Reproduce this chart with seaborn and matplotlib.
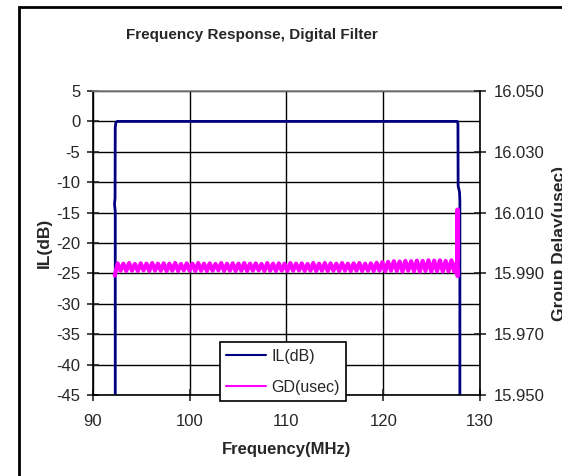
import numpy as np
import pandas as pd
import matplotlib
matplotlib.use("Agg")
import matplotlib.pyplot as plt
from matplotlib.patches import Rectangle
from matplotlib.lines import Line2D
import seaborn as sns

# insertion loss trace (MHz, dB)
il_freq = [92.30, 92.30, 92.22, 92.28, 92.30, 92.36, 92.50, 127.66, 127.72, 127.74, 127.88, 127.92, 127.92]
il_db = [-45.0, -14.8, -13.6, -12.6, -1.0, -0.2, 0.0, 0.0, -0.4, -10.6, -11.6, -13.0, -45.0]

# group delay ripple across the passband (usec), swept evenly from band_start to band_stop
band_start, band_stop = 92.25, 127.64
gd_band = [
    15.9893, 15.9933, 15.9909, 15.9932, 15.9908, 15.9934, 15.9909, 15.9931, 15.9908, 15.9933,
    15.9910, 15.9932, 15.9908, 15.9934, 15.9909, 15.9932, 15.9909, 15.9933, 15.9908, 15.9932,
    15.9909, 15.9934, 15.9908, 15.9931, 15.9910, 15.9933, 15.9909, 15.9932, 15.9908, 15.9934,
    15.9909, 15.9932, 15.9908, 15.9933, 15.9909, 15.9931, 15.9910, 15.9934, 15.9908, 15.9932,
    15.9909, 15.9933, 15.9908, 15.9932, 15.9909, 15.9934, 15.9908, 15.9932, 15.9909, 15.9933,
    15.9910, 15.9931, 15.9908, 15.9934, 15.9909, 15.9932, 15.9908, 15.9933, 15.9909, 15.9932,
    15.9908, 15.9934, 15.9909, 15.9932, 15.9910, 15.9933, 15.9908, 15.9931, 15.9909, 15.9934,
    15.9908, 15.9932, 15.9909, 15.9934, 15.9908, 15.9933, 15.9909, 15.9932, 15.9908, 15.9934,
    15.9909, 15.9932, 15.9908, 15.9933, 15.9909, 15.9934, 15.9908, 15.9932, 15.9909, 15.9933,
    15.9908, 15.9935, 15.9909, 15.9937, 15.9907, 15.9938, 15.9909, 15.9940, 15.9908, 15.9939,
    15.9906, 15.9941, 15.9909, 15.9940, 15.9907, 15.9942, 15.9906, 15.9941, 15.9908, 15.9943,
    15.9906, 15.9942, 15.9907, 15.9943, 15.9906, 15.9941, 15.9907, 15.9943, 15.9906, 15.9942,
]
gd_edge_freq = [127.68, 127.69, 127.70]
gd_edge = [16.0110, 15.9891, 15.9912]

x_ticks = [90, 100, 110, 120, 130]
il_ticks = [5, 0, -5, -10, -15, -20, -25, -30, -35, -40, -45]
gd_ticks = [16.050, 16.030, 16.010, 15.990, 15.970, 15.950]

sns.set_style("white")
plt.rcParams['font.family'] = ['Liberation Sans', 'DejaVu Sans']
plt.rcParams['axes.unicode_minus'] = False

il_df = pd.DataFrame({'freq': il_freq, 'il': il_db})
gd_df = pd.DataFrame({
    'freq': list(np.linspace(band_start, band_stop, len(gd_band))) + gd_edge_freq,
    'gd': gd_band + gd_edge,
})

navy = '#000080'
pink = '#FF00FF'

fig = plt.figure(figsize=(5.62, 4.76), dpi=100)
ax = fig.add_axes([93 / 562, 1 - 395 / 476, 387 / 562, 304 / 476])
ax2 = ax.twinx()

sns.lineplot(data=il_df, x='freq', y='il', ax=ax, color=navy, lw=2, sort=False, estimator=None)
sns.lineplot(data=gd_df, x='freq', y='gd', ax=ax2, color=pink, lw=3, sort=False, estimator=None)

ax.set_xlim(90, 130)
ax.set_ylim(-45, 5)
ax2.set_ylim(15.950, 16.050)
ax.set_xticks(x_ticks)
ax.set_yticks(il_ticks)
ax2.set_yticks(gd_ticks)
ax2.set_yticklabels([f'{t:.3f}' for t in gd_ticks])

ax.grid(True, color='black', lw=1)
for s in ['left', 'bottom']:
    ax.spines[s].set_color('black')
    ax.spines[s].set_linewidth(1.2)
ax.spines['top'].set_color('#808080')
ax.spines['top'].set_linewidth(1.2)
ax.spines['right'].set_visible(False)
for s in ['left', 'bottom', 'top']:
    ax2.spines[s].set_visible(False)
ax2.spines['right'].set_visible(True)
ax2.spines['right'].set_color('black')
ax2.spines['right'].set_linewidth(1.2)

ax.tick_params(axis='y', direction='inout', length=8, width=1.2, labelsize=12, pad=5, left=True)
ax.tick_params(axis='x', direction='inout', length=8, width=1.2, labelsize=12, pad=10, bottom=True)
ax2.tick_params(axis='y', direction='inout', length=8, width=1.2, labelsize=12, pad=6, right=True)

ax.set_xlabel('Frequency(MHz)', fontsize=12, fontweight='bold')
ax.xaxis.set_label_coords(0.5, -0.155)
ax.set_ylabel('IL(dB)', fontsize=12.5, fontweight='bold')
ax.yaxis.set_label_coords(-0.106, 0.5)
ax2.set_ylabel('Group Delay(usec)', fontsize=12.5, fontweight='bold')
ax2.yaxis.set_label_coords(1.185, 0.5)

handles = [Line2D([], [], color=navy, lw=1.5), Line2D([], [], color=pink, lw=1.5)]
leg = ax2.legend(handles, ['IL(dB)', 'GD(usec)'], loc='lower left', bbox_to_anchor=(0.328, -0.02),
                 fontsize=11.5, frameon=True, fancybox=False, framealpha=1, edgecolor='black',
                 handlelength=2.5, handletextpad=0.3, labelspacing=1.0, borderpad=0.4, borderaxespad=0)
leg.get_frame().set_linewidth(1.2)

fig.text(252 / 562, 1 - 35 / 476, 'Frequency Response, Digital Filter', ha='center', va='center',
         fontsize=11, fontweight='bold')

fig.patches.append(Rectangle((18.5 / 562, -0.5), 2.0, 1.5 - 7 / 476, transform=fig.transFigure,
                             fill=False, edgecolor='black', lw=2, clip_on=False))

fig.savefig('out.png', dpi=100)
